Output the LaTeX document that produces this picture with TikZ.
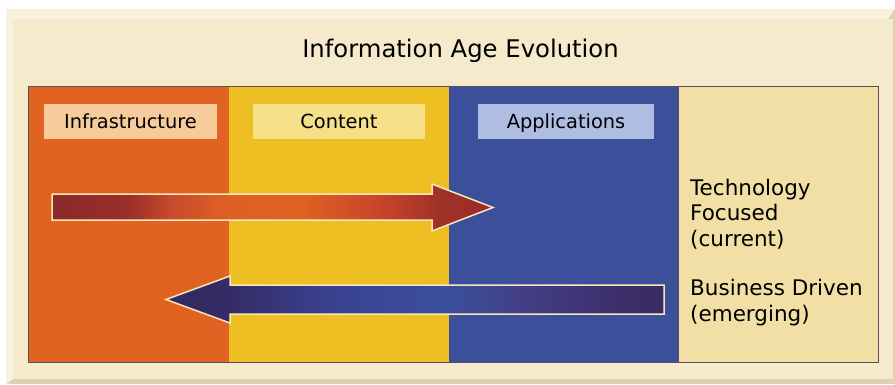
\documentclass[tikz,border=0pt]{standalone}
\usepackage{fontspec}
\setmainfont{DejaVu Sans}
\usetikzlibrary{shadings}

\definecolor{paneface}{HTML}{F5EACB}
\definecolor{panelight}{HTML}{F8F1E0}
\definecolor{panedark}{HTML}{DCD2AF}
\definecolor{colorange}{HTML}{E06322}
\definecolor{colyellow}{HTML}{EDBF22}
\definecolor{colblue}{HTML}{3B4F9B}
\definecolor{colbeige}{HTML}{F2DFA5}
\definecolor{lblorange}{HTML}{F8CC9A}
\definecolor{lblyellow}{HTML}{F5DF88}
\definecolor{lblblue}{HTML}{AFBDE0}
\definecolor{framecol}{HTML}{5C4E5C}
\definecolor{arrowedge}{HTML}{F7E7B9}
\definecolor{redA}{HTML}{8C292B}
\definecolor{redB}{HTML}{9A2E29}
\definecolor{redC}{HTML}{C64A2C}
\definecolor{redD}{HTML}{DC5E25}
\definecolor{redE}{HTML}{E06322}
\definecolor{redF}{HTML}{C9452A}
\definecolor{redG}{HTML}{A0302A}
\definecolor{redH}{HTML}{9A2D28}
\definecolor{navA}{HTML}{34295F}
\definecolor{navB}{HTML}{352C66}
\definecolor{navC}{HTML}{3A4290}
\definecolor{navD}{HTML}{3B4F9B}
\definecolor{navE}{HTML}{433F86}
\definecolor{navF}{HTML}{3E3170}
\definecolor{navG}{HTML}{3A2A60}

% horizontal colour runs along the two arrows (path spans 25bp..75bp)
\pgfdeclarehorizontalshading{redrun}{100bp}{%
  color(0bp)=(redA); color(25bp)=(redA); color(33.8bp)=(redB);
  color(38.4bp)=(redC); color(44bp)=(redD); color(53bp)=(redE);
  color(62bp)=(redF); color(69bp)=(redG); color(75bp)=(redH); color(100bp)=(redH)}
\pgfdeclarehorizontalshading{bluerun}{100bp}{%
  color(0bp)=(navA); color(25bp)=(navA); color(31.4bp)=(navB);
  color(41.5bp)=(navC); color(53.5bp)=(navD); color(60.5bp)=(navE);
  color(68.6bp)=(navF); color(75bp)=(navG); color(100bp)=(navG)}

\tikzset{
  lbl/.style={fill=#1, minimum height=35pt, inner sep=0pt,
    text height=16pt, text depth=3pt,
    font=\fontsize{19.4}{23}\selectfont, text=black},
  sidetext/.style={align=left, inner sep=0pt, anchor=base west,
    font=\fontsize{21.5}{25.5}\selectfont, text=black},
  bigarrow/.style={draw=arrowedge, line width=1.5pt, line join=miter}
}

\begin{document}
\begin{tikzpicture}[x=1pt, y=-1pt]
  \useasboundingbox (0,0) rectangle (895,384);
  \fill[white] (0,0) rectangle (895,384);

  % bevelled outer panel
  \fill[panedark] (6,9) rectangle (895,384);
  \fill[panelight] (6,9) -- (895,9) -- (888,19) -- (13,19) -- (13,379) -- (6,384) -- cycle;
  \fill[paneface] (13,19) rectangle (893,379);

  \node[font=\fontsize{24.3}{29}\selectfont, anchor=base] (title) at (460.5,57) {Information Age Evolution};

  % the four columns
  \fill[colorange] (28,86) rectangle (229,362);
  \fill[colyellow] (229,86) rectangle (449,362);
  \fill[colblue]   (449,86) rectangle (678,362);
  \fill[colbeige]  (678,86) rectangle (878,362);
  \draw[framecol, line width=1pt] (28,86) rectangle (878,362);
  \draw[framecol, line width=0.8pt] (678,86) -- (678,362);

  % column headings
  \node[lbl=lblorange, minimum width=173pt] (infra) at (130.5,121.5) {Infrastructure};
  \node[lbl=lblyellow, minimum width=172pt] (content) at (339,121.5) {Content};
  \node[lbl=lblblue,   minimum width=176pt] (apps) at (566,121.5) {Applications};

  % rightward arrow
  \path[bigarrow, shading=redrun]
    (52,194) -- (432,194) -- (432,184) -- (493,207.5) -- (432,231) -- (432,220) -- (52,220) -- cycle;

  % leftward arrow
  \path[bigarrow, shading=bluerun]
    (664,285) -- (230,285) -- (230,276) -- (166,299.5) -- (230,323) -- (230,314) -- (664,314) -- cycle;

  % side notes (anchored on the baseline of their last line)
  \node[sidetext] (tech) at (690,246) {Technology\\Focused\\(current)};
  \node[sidetext] (biz) at (690,321) {Business Driven\\(emerging)};
\end{tikzpicture}
\end{document}
